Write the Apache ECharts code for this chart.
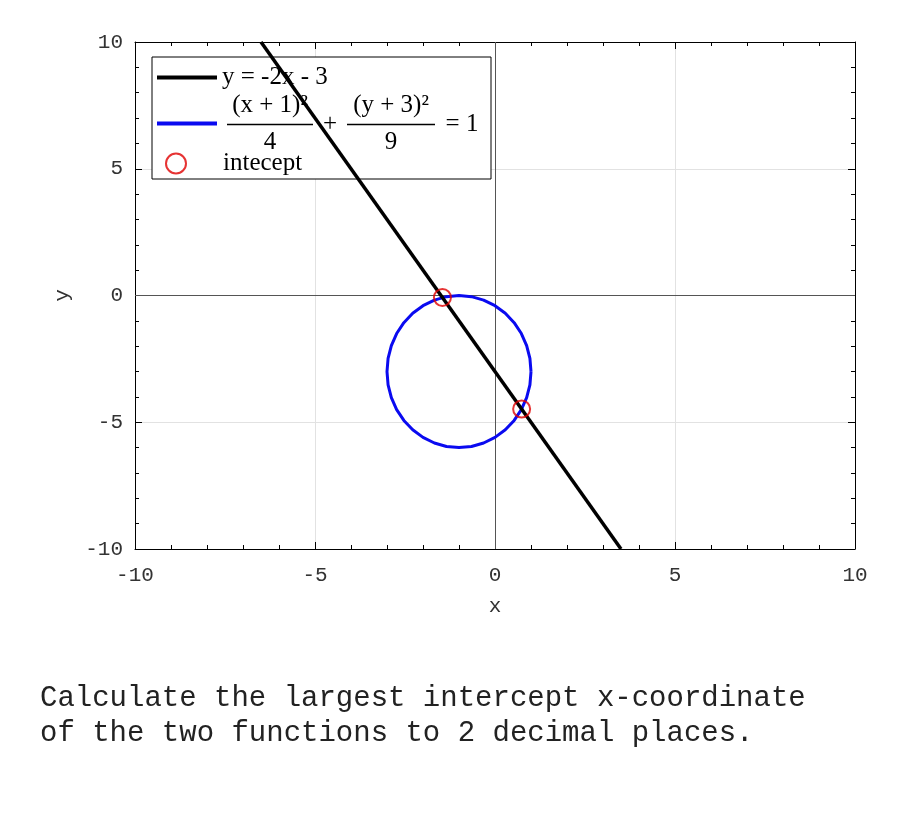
<!DOCTYPE html>
<html>
<head>
<meta charset="utf-8">
<script src="https://cdn.jsdelivr.net/npm/echarts@6/dist/echarts.min.js"></script>
<style>
  html, body { margin: 0; padding: 0; background: #fff; }
  #chart { width: 900px; height: 825px; }
</style>
</head>
<body>
<div id="chart"></div>
<script>
// straight line y = -2x - 3, endpoints where it leaves the plot box
const lineX = [-6.5, 3.5];
const lineY = [10, -10];

// ellipse (x+1)^2/4 + (y+3)^2/9 = 1, points read around the curve
const ellipseX = [1, 0.97, 0.879, 0.732, 0.532, 0.286, 0, -0.316, -0.653, -1, -1.347, -1.684, -2, -2.286, -2.532, -2.732, -2.879, -2.97,
    -3, -2.97, -2.879, -2.732, -2.532, -2.286, -2, -1.684, -1.347, -1, -0.653, -0.316, 0, 0.286, 0.532, 0.732, 0.879, 0.97, 1];
const ellipseY = [-3, -2.479, -1.974, -1.5, -1.072, -0.702, -0.402, -0.181, -0.046, 0, -0.046, -0.181, -0.402, -0.702, -1.072, -1.5, -1.974, -2.479,
    -3, -3.521, -4.026, -4.5, -4.928, -5.298, -5.598, -5.819, -5.954, -6, -5.954, -5.819, -5.598, -5.298, -4.928, -4.5, -4.026, -3.521, -3];

// intercept points
const interceptX = [-1.46, 0.74];
const interceptY = [-0.08, -4.48];

const axisTicks = [-10, -5, 0, 5, 10];

const lineName = 'y = -2x - 3';
const ellipseName = 'ellipse';
const interceptName = 'intecept';

// fraction drawn with rich text, every row padded to the same width
const ellipseLabel = [
    '{lead| }{num|(x + 1)²}{op| }{num2|(y + 3)²}{tail| }',
    '{lead| }{bar| }{op2|+}{bar2| }{eq|= 1}',
    '{lead| }{den|4}{op3| }{den2|9}{tail| }',
].join('\n');

const zip = (xs, ys) => xs.map((x, i) => [x, ys[i]]);

const monoFont = 'Liberation Mono';
const serifFont = 'Liberation Serif';

const baseAxis = (position, showLabel) => ({
    type: 'value',
    position: position,
    min: axisTicks[0],
    max: axisTicks[axisTicks.length - 1],
    interval: 5,
    axisLine: {show: true, onZero: false, lineStyle: {color: '#000', width: 1}},
    axisTick: {show: true, inside: true, length: 7, lineStyle: {color: '#000'}},
    minorTick: {show: true, splitNumber: 5, length: 4, lineStyle: {color: '#000'}},
    axisLabel: {show: showLabel, fontFamily: monoFont, fontSize: 21, color: '#333'},
    splitLine: {show: showLabel, lineStyle: {color: '#e2e2e2', width: 1}},
});

const serifToken = (width, lineHeight, align) => ({
    width: width, align: align || 'center', fontFamily: serifFont, fontSize: 25, color: '#000', lineHeight: lineHeight,
});

const chart = echarts.init(document.getElementById('chart'));
chart.setOption({
    animation: false,
    backgroundColor: '#fff',
    grid: {left: 135, right: 45, top: 42, bottom: 276, containLabel: false},
    xAxis: [
        Object.assign(baseAxis('bottom', true), {
            name: 'x', nameLocation: 'middle', nameGap: 47,
            nameTextStyle: {fontFamily: monoFont, fontSize: 21, color: '#333'},
            axisLabel: {show: true, margin: 16, fontFamily: monoFont, fontSize: 21, color: '#333'},
        }),
        baseAxis('top', false),
    ],
    yAxis: [
        Object.assign(baseAxis('left', true), {
            name: 'y', nameLocation: 'middle', nameGap: 62,
            nameTextStyle: {fontFamily: monoFont, fontSize: 21, color: '#333'},
            axisLabel: {show: true, margin: 12, fontFamily: monoFont, fontSize: 21, color: '#333'},
        }),
        baseAxis('right', false),
    ],
    legend: [
        {
            // boxed legend: the two curves, with room left at the bottom for the marker entry
            orient: 'vertical',
            left: 152,
            top: 57,
            padding: [8, 10, 24, 5],
            itemGap: 3,
            itemWidth: 60,
            itemHeight: 20,
            borderColor: '#000',
            borderWidth: 1,
            backgroundColor: '#fff',
            data: [
                {name: lineName, icon: 'path://M0,0H60V4H0Z'},
                {name: ellipseName, icon: 'path://M0,0H60V4H0Z'},
            ],
            formatter: name => (name === ellipseName ? ellipseLabel : name),
            textStyle: {
                fontFamily: serifFont,
                fontSize: 25,
                color: '#000',
                lineHeight: 24,
                rich: {
                    lead: {width: 5, lineHeight: 8},
                    tail: {width: 46, lineHeight: 8},
                    num: serifToken(86, 22),
                    num2: serifToken(88, 22),
                    op: serifToken(34, 16),
                    op2: serifToken(34, 16),
                    op3: serifToken(34, 20),
                    bar: {width: 86, height: 1.5, lineHeight: 8, backgroundColor: '#000', verticalAlign: 'middle'},
                    bar2: {width: 88, height: 1.5, lineHeight: 8, backgroundColor: '#000', verticalAlign: 'middle'},
                    eq: Object.assign(serifToken(38, 16, 'left'), {padding: [0, 0, 0, 8]}),
                    den: serifToken(86, 20),
                    den2: serifToken(88, 20),
                },
            },
        },
        {
            // marker entry, sits inside the box above
            orient: 'vertical',
            left: 152,
            top: 151,
            padding: [0, 0, 0, 5],
            itemWidth: 60,
            itemHeight: 20,
            data: [{name: interceptName, icon: 'path://M0,0M60,20M8,10A10,10,0,1,1,28,10A10,10,0,1,1,8,10Z'}],
            textStyle: {fontFamily: serifFont, fontSize: 25, color: '#000', lineHeight: 20},
            z: 5,
        },
    ],
    graphic: [{
        type: 'text',
        left: 40,
        top: 681,
        style: {
            text: 'Calculate the largest intercept x-coordinate\nof the two functions to 2 decimal places.',
            font: '29px "Liberation Mono"',
            fill: '#222',
            lineHeight: 35,
        },
    }],
    series: [
        {
            name: ellipseName,
            type: 'line',
            data: zip(ellipseX, ellipseY),
            symbol: 'none',
            lineStyle: {color: '#0a0af0', width: 3},
            itemStyle: {color: '#0a0af0'},
            markLine: {
                silent: true,
                symbol: 'none',
                label: {show: false},
                lineStyle: {color: '#555', width: 1, type: 'solid'},
                data: [{xAxis: 0}, {yAxis: 0}],
                z: 1,
            },
            z: 3,
        },
        {
            name: lineName,
            type: 'line',
            data: zip(lineX, lineY),
            symbol: 'none',
            lineStyle: {color: '#000', width: 3.5},
            itemStyle: {color: '#000'},
            z: 4,
        },
        {
            name: interceptName,
            type: 'scatter',
            data: zip(interceptX, interceptY),
            symbol: 'circle',
            symbolSize: 17,
            itemStyle: {color: 'rgba(0,0,0,0)', borderColor: '#e00000', borderWidth: 2},
            z: 5,
        },
    ],
});
</script>
</body>
</html>
